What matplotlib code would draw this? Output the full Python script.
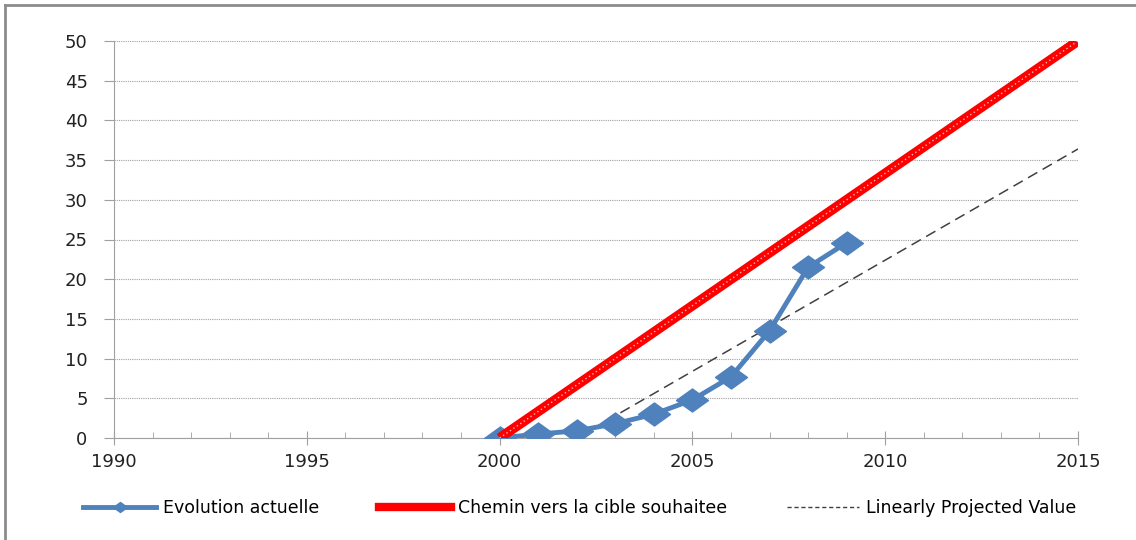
import matplotlib.pyplot as plt
from matplotlib.lines import Line2D
from matplotlib.path import Path
from matplotlib.ticker import MultipleLocator

years = [2000, 2001, 2002, 2003, 2004, 2005, 2006, 2007, 2008, 2009]
actual = [0.0, 0.5, 0.9, 1.8, 3.0, 4.8, 7.7, 13.5, 21.5, 24.6]

target_years = [2000, 2015]
target_vals = [0, 50]

proj_years = [2002, 2015]
proj_vals = [0, 36.4]

blue = '#4F81BD'
# flattened diamond like the Excel marker
diamond = Path([(-1, 0), (0, 0.72), (1, 0), (0, -0.72), (-1, 0)],
               [Path.MOVETO, Path.LINETO, Path.LINETO, Path.LINETO, Path.CLOSEPOLY])

fig = plt.figure(figsize=(11.36, 5.4), dpi=100)
ax = fig.add_axes([114 / 1136, 102 / 540, 964 / 1136, 397 / 540])

# figure frame
fig.add_artist(Line2D([5 / 1136, 5 / 1136], [0, 535 / 540], color='#8c8c8c', lw=2, transform=fig.transFigure))
fig.add_artist(Line2D([5 / 1136, 1], [535 / 540, 535 / 540], color='#8c8c8c', lw=2, transform=fig.transFigure))

ax.plot(years, actual, color=blue, lw=3.5, marker=diamond, markersize=23, zorder=4)
ax.plot(target_years, target_vals, color='red', lw=7, solid_capstyle='butt', zorder=5)
ax.plot(target_years, target_vals, color='#ffb3b3', lw=1, ls=(0, (1, 2)), zorder=5)
ax.plot(proj_years, proj_vals, color='#404040', lw=1.1, ls=(0, (7, 4)), zorder=2)

ax.set_xlim(1990, 2015)
ax.set_ylim(0, 50)
ax.xaxis.set_major_locator(MultipleLocator(5))
ax.xaxis.set_minor_locator(MultipleLocator(1))
ax.yaxis.set_major_locator(MultipleLocator(5))

ax.grid(axis='y', color='#a0a0a0', ls=(0, (1, 1)), lw=0.8)
for s in ['top', 'right']:
    ax.spines[s].set_visible(False)
for s in ['left', 'bottom']:
    ax.spines[s].set_color('#a0a0a0')

ax.tick_params(axis='x', which='major', direction='inout', length=10, color='#a0a0a0', labelsize=13, pad=6)
ax.tick_params(axis='x', which='minor', direction='in', length=4, color='#a0a0a0')
ax.tick_params(axis='y', direction='out', length=7, color='#a0a0a0', labelsize=13, pad=12)
for lab in ax.get_xticklabels() + ax.get_yticklabels():
    lab.set_family('DejaVu Sans')
    lab.set_color('#222222')

handles = [
    Line2D([], [], color=blue, lw=3.5, marker=diamond, markersize=10),
    Line2D([], [], color='red', lw=6),
    Line2D([], [], color='#404040', lw=1, ls=(0, (3, 2))),
]
labels = ['Evolution actuelle', 'Chemin vers la cible souhaitee', 'Linearly Projected Value']
fig.legend(handles, labels, loc='center', bbox_to_anchor=(580 / 1136, 1 - 508 / 540), ncol=3,
           frameon=False, handlelength=4.2, handletextpad=0.4, columnspacing=3.4,
           prop={'family': 'DejaVu Sans', 'size': 12.5})

fig.savefig('out.png', dpi=100)
